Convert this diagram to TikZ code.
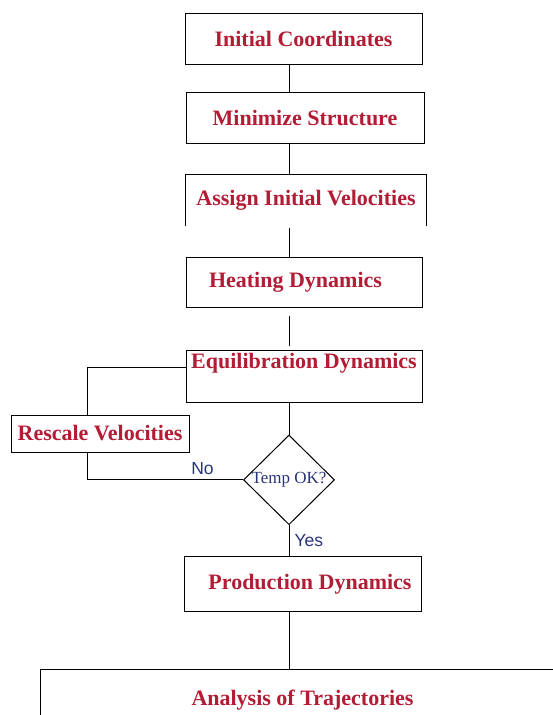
\documentclass[tikz,border=0pt]{standalone}
\usepackage{fontspec}
\setmainfont{Liberation Serif}
\newfontfamily\yesnofont{Liberation Sans}
\usetikzlibrary{shapes.geometric,positioning}
\definecolor{stepred}{RGB}{178,28,52}
\definecolor{answerblue}{RGB}{40,52,120}

\begin{document}
\begin{tikzpicture}[x=1pt,y=1pt,line width=1pt,
  stage/.style={rectangle,draw,minimum width=237pt,minimum height=51pt,inner sep=0pt,text=stepred,font=\fontsize{22}{26}\selectfont\bfseries},
  answer/.style={text=answerblue,font=\yesnofont\fontsize{17.5}{20}\selectfont}]
\useasboundingbox (0,0) rectangle (553,-715);
\clip (0,0) rectangle (553,-715);

\node (init) [stage] at (303.5,-38.5) {Initial Coordinates};
\node (mini) [stage,below=27pt of init,xshift=1.5pt,minimum width=238pt] {Minimize Structure};
\node (assign) [stage,draw=none,below=31pt of mini,xshift=1pt,minimum width=240pt,minimum height=50pt] {Assign Initial Velocities};
\node (heat) [stage,below=31pt of assign,xshift=-2pt,minimum width=236pt,minimum height=50pt] {\hspace*{-17pt}Heating Dynamics};
\node (equil) [stage,below=42pt of heat,minimum width=236pt,minimum height=52pt,text depth=31pt] {Equilibration Dynamics};
\node (temp) [diamond,draw,below=32pt of equil,xshift=-15pt,inner sep=0pt,minimum width=91pt,minimum height=88pt,text=answerblue,font=\fontsize{17}{20}\selectfont] {Temp OK?};
\node (rescale) [stage,minimum width=178pt,minimum height=37pt] at (100,-433.5) {Rescale Velocities};
\node (prod) [stage,below=31pt of temp,xshift=13.5pt,minimum height=55pt] {\hspace*{15pt}Production Dynamics};
\node (anal) [stage,below=57pt of prod,minimum width=524pt,minimum height=60pt] {Analysis of Trajectories};

% spine through the decision
\draw (init.south -| temp) -- (mini.north -| temp);
\draw (mini.south -| temp) -- (assign.north -| temp);
\draw (assign.south west) -- (assign.north west) -- (assign.north east) -- (assign.south east);
\draw[shorten <=2pt] (assign.south -| temp) -- (heat.north -| temp);
\draw[shorten <=8pt,shorten >=4pt] (heat.south -| temp) -- (equil.north -| temp);
\draw (equil.south -| temp) -- (temp.north);
% rescale loop
\draw ([yshift=9pt]equil.west) -| ([xshift=-13pt]rescale.north);
\draw ([xshift=-13pt]rescale.south) |- (temp.west) node[answer,pos=0.87,above,inner sep=5pt] {No};
\draw (temp.south) -- (prod.north -| temp) node[answer,midway,right,inner sep=5pt] {Yes};
\draw (prod.south -| temp) -- (anal.north -| temp);
\end{tikzpicture}
\end{document}
